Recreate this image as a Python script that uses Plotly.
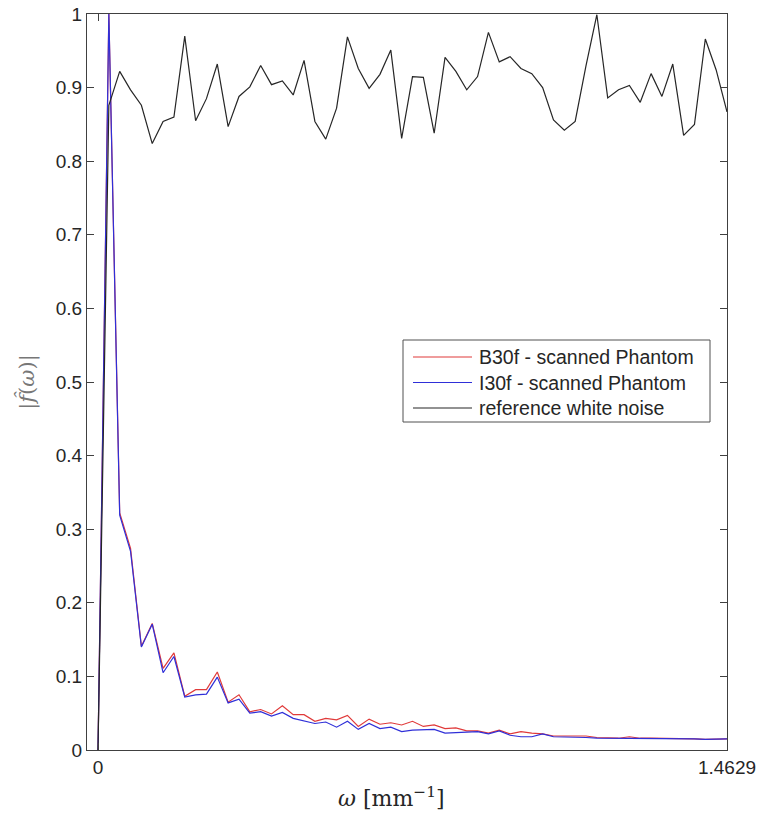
import numpy as np
import plotly.graph_objects as go

OMEGA_MAX = 1.4629

b30f = [0, 1.0, 0.322, 0.274, 0.141, 0.172, 0.111, 0.132, 0.073, 0.082,
        0.082, 0.106, 0.065, 0.075, 0.052, 0.055, 0.049, 0.060, 0.048, 0.048,
        0.039, 0.043, 0.041, 0.047, 0.032, 0.042, 0.035, 0.037, 0.034, 0.039,
        0.032, 0.034, 0.029, 0.030, 0.026, 0.026, 0.023, 0.027, 0.022, 0.025,
        0.023, 0.022, 0.019, 0.019, 0.019, 0.019, 0.017, 0.017, 0.016, 0.018,
        0.016, 0.016, 0.016, 0.016, 0.015, 0.015, 0.0145, 0.015, 0.015]

i30f = [0, 1.0, 0.319, 0.270, 0.140, 0.171, 0.105, 0.127, 0.072, 0.075,
        0.076, 0.099, 0.064, 0.069, 0.050, 0.052, 0.046, 0.051, 0.043, 0.040,
        0.036, 0.038, 0.031, 0.039, 0.028, 0.036, 0.029, 0.031, 0.025, 0.027,
        0.027, 0.028, 0.023, 0.024, 0.024, 0.025, 0.022, 0.026, 0.020, 0.018,
        0.018, 0.022, 0.018, 0.018, 0.017, 0.017, 0.016, 0.016, 0.016, 0.016,
        0.016, 0.0155, 0.0155, 0.0155, 0.015, 0.015, 0.0145, 0.015, 0.015]

white_noise = [0, 0.876, 0.922, 0.897, 0.876, 0.824, 0.854, 0.860, 0.970, 0.855,
               0.885, 0.932, 0.847, 0.888, 0.901, 0.930, 0.904, 0.909, 0.890, 0.937,
               0.854, 0.830, 0.872, 0.969, 0.926, 0.899, 0.918, 0.951, 0.831, 0.915,
               0.914, 0.838, 0.941, 0.922, 0.897, 0.915, 0.975, 0.935, 0.942, 0.926,
               0.919, 0.900, 0.856, 0.842, 0.854, 0.930, 0.999, 0.886, 0.897, 0.903,
               0.880, 0.919, 0.888, 0.932, 0.835, 0.850, 0.966, 0.924, 0.867]

series_names = ["B30f - scanned Phantom", "I30f - scanned Phantom", "reference white noise"]
series_colors = ["#e03a3a", "#2f2fd8", "#262626"]

omega = np.linspace(0, OMEGA_MAX, len(white_noise))

y_tickvals = [0, 0.1, 0.2, 0.3, 0.4, 0.5, 0.6, 0.7, 0.8, 0.9, 1.0]
y_ticktext = ["0", "0.1", "0.2", "0.3", "0.4", "0.5", "0.6", "0.7", "0.8", "0.9", "1"]
x_tickvals = [0, OMEGA_MAX]
x_ticktext = ["0", "1.4629"]

fig = go.Figure()
for name, vals, col in zip(series_names, [b30f, i30f, white_noise], series_colors):
    fig.add_trace(go.Scatter(x=omega, y=vals, mode="lines", name=name,
                             line=dict(color=col, width=1.2), showlegend=False))

axis_common = dict(showline=True, linecolor="#404040", linewidth=1, mirror="ticks",
                   ticks="inside", ticklen=7, tickcolor="#404040", showgrid=False,
                   zeroline=False, automargin=False,
                   tickfont=dict(family="Liberation Sans", size=19, color="#262626"))

fig.update_xaxes(range=[-0.0256, OMEGA_MAX], tickvals=x_tickvals, ticktext=x_ticktext,
                 **axis_common)
fig.update_yaxes(range=[0, 1], tickvals=y_tickvals, ticktext=y_ticktext,
                 title=dict(text="|<i>f̂</i>(<i>ω</i>)|",
                            font=dict(family="DejaVu Serif", size=21, color="#777777")),
                 **axis_common)

# x-axis title
fig.add_annotation(text="<i>ω</i> [mm<sup>−1</sup>]", xref="paper", yref="paper",
                   x=0.475, y=-0.0645, xanchor="center", yanchor="middle", showarrow=False,
                   font=dict(family="DejaVu Serif", size=22, color="#262626"))

# legend box drawn in paper coordinates
def px_x(p):
    return (p - 87) / 640.0

def px_y(p):
    return (750 - p) / 736.0

fig.add_shape(type="rect", xref="paper", yref="paper",
              x0=px_x(403), x1=px_x(710), y0=px_y(422), y1=px_y(340),
              fillcolor="white", line=dict(color="#505050", width=1), layer="above")
for k, (name, col) in enumerate(zip(series_names, series_colors)):
    yy = px_y(357 + k * 25.5)
    fig.add_shape(type="line", xref="paper", yref="paper",
                  x0=px_x(413), x1=px_x(472), y0=yy, y1=yy,
                  line=dict(color=col, width=1.2), layer="above")
    fig.add_annotation(text=name, xref="paper", yref="paper", x=px_x(477), y=yy,
                       xanchor="left", yanchor="middle", showarrow=False,
                       font=dict(family="Liberation Sans", size=19.5, color="#262626"))

fig.update_layout(
    width=762, height=814,
    margin=dict(l=87, r=35, t=14, b=64),
    plot_bgcolor="white", paper_bgcolor="white",
    showlegend=False,
)

fig.write_html("out.html")
